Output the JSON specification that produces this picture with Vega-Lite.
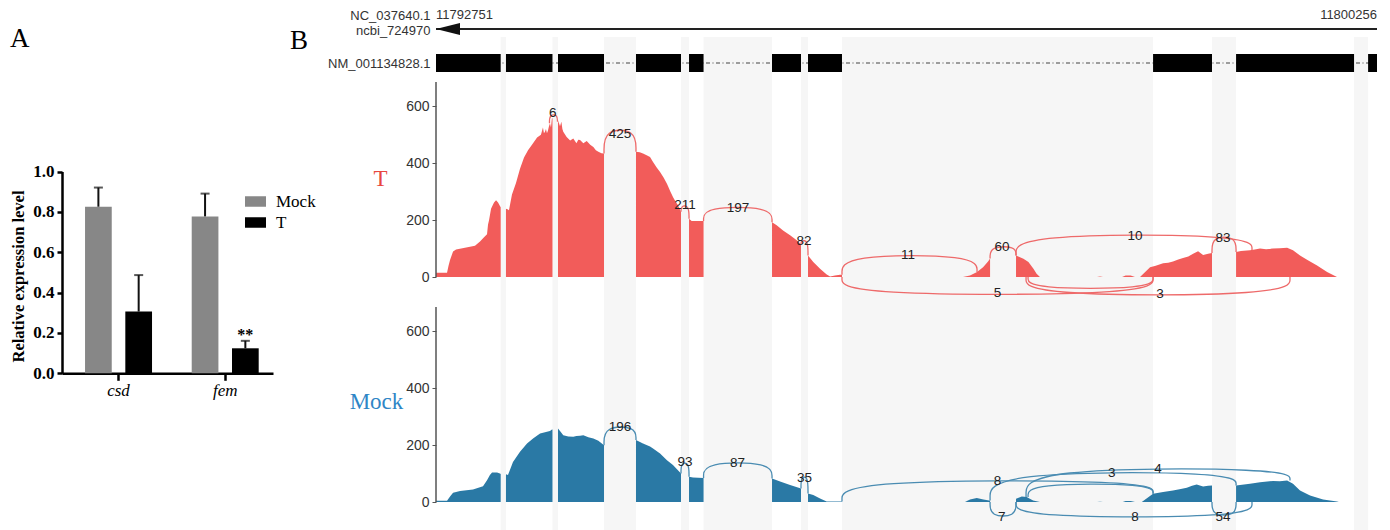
{
"$schema":"https://vega.github.io/schema/vega-lite/v6.json",
"background":"white",
"padding":{"left":10,"top":0,"right":0,"bottom":0},
"config":{"view":{"stroke":null},"font":"Liberation Sans"},
"datasets":{
"expr":[
{"gene":"csd","group":"Mock","mean":0.826,"upper":0.921,"sig":""},
{"gene":"csd","group":"T","mean":0.306,"upper":0.487,"sig":""},
{"gene":"fem","group":"Mock","mean":0.778,"upper":0.891,"sig":""},
{"gene":"fem","group":"T","mean":0.124,"upper":0.161,"sig":"**"}
],
"gene":[{"start":0,"end":7505,"startLabel":"11792751","endLabel":"11800256"}],
"exons":[{"start":0,"end":516},{"start":558,"end":929},{"start":973,"end":1340},{"start":1595,"end":1954},{"start":2018,"end":2134},{"start":2680,"end":2911},{"start":2967,"end":3238},{"start":5719,"end":6189},{"start":6381,"end":7322},{"start":7434,"end":7505}],
"introns":[{"start":516,"end":558},{"start":929,"end":973},{"start":1340,"end":1595},{"start":1954,"end":2018},{"start":2134,"end":2680},{"start":2911,"end":2967},{"start":3238,"end":5719},{"start":6189,"end":6381},{"start":7322,"end":7434}],
"covT":[
{"seg":1,"pos":0,"cov":15},{"seg":1,"pos":88,"cov":15},{"seg":1,"pos":100,"cov":40},{"seg":1,"pos":112,"cov":60},{"seg":1,"pos":136,"cov":90},{"seg":1,"pos":160,"cov":97},{"seg":1,"pos":231,"cov":103},{"seg":1,"pos":311,"cov":110},{"seg":1,"pos":351,"cov":125},{"seg":1,"pos":383,"cov":140},{"seg":1,"pos":407,"cov":150},{"seg":1,"pos":415,"cov":185},{"seg":1,"pos":423,"cov":200},{"seg":1,"pos":439,"cov":240},{"seg":1,"pos":455,"cov":255},{"seg":1,"pos":463,"cov":262},{"seg":1,"pos":479,"cov":270},{"seg":1,"pos":495,"cov":262},{"seg":1,"pos":510,"cov":250},{"seg":1,"pos":516,"cov":245},
{"seg":2,"pos":558,"cov":240},{"seg":2,"pos":570,"cov":238},{"seg":2,"pos":582,"cov":235},{"seg":2,"pos":606,"cov":290},{"seg":2,"pos":638,"cov":330},{"seg":2,"pos":670,"cov":380},{"seg":2,"pos":702,"cov":420},{"seg":2,"pos":734,"cov":445},{"seg":2,"pos":774,"cov":470},{"seg":2,"pos":806,"cov":490},{"seg":2,"pos":837,"cov":500},{"seg":2,"pos":853,"cov":525},{"seg":2,"pos":861,"cov":505},{"seg":2,"pos":869,"cov":510},{"seg":2,"pos":877,"cov":520},{"seg":2,"pos":885,"cov":505},{"seg":2,"pos":893,"cov":515},{"seg":2,"pos":901,"cov":530},{"seg":2,"pos":909,"cov":540},{"seg":2,"pos":917,"cov":525},{"seg":2,"pos":925,"cov":560},{"seg":2,"pos":929,"cov":555},
{"seg":3,"pos":973,"cov":549},{"seg":3,"pos":981,"cov":540},{"seg":3,"pos":989,"cov":530},{"seg":3,"pos":1000,"cov":545},{"seg":3,"pos":1008,"cov":520},{"seg":3,"pos":1015,"cov":510},{"seg":3,"pos":1042,"cov":492},{"seg":3,"pos":1070,"cov":480},{"seg":3,"pos":1095,"cov":487},{"seg":3,"pos":1120,"cov":470},{"seg":3,"pos":1135,"cov":482},{"seg":3,"pos":1149,"cov":481},{"seg":3,"pos":1175,"cov":470},{"seg":3,"pos":1202,"cov":478},{"seg":3,"pos":1230,"cov":465},{"seg":3,"pos":1255,"cov":457},{"seg":3,"pos":1275,"cov":445},{"seg":3,"pos":1295,"cov":440},{"seg":3,"pos":1320,"cov":435},{"seg":3,"pos":1340,"cov":434},
{"seg":4,"pos":1595,"cov":440},{"seg":4,"pos":1625,"cov":438},{"seg":4,"pos":1651,"cov":434},{"seg":4,"pos":1680,"cov":428},{"seg":4,"pos":1707,"cov":422},{"seg":4,"pos":1731,"cov":404},{"seg":4,"pos":1760,"cov":385},{"seg":4,"pos":1787,"cov":369},{"seg":4,"pos":1815,"cov":350},{"seg":4,"pos":1842,"cov":328},{"seg":4,"pos":1870,"cov":300},{"seg":4,"pos":1890,"cov":281},{"seg":4,"pos":1910,"cov":265},{"seg":4,"pos":1930,"cov":252},{"seg":4,"pos":1954,"cov":229},
{"seg":5,"pos":2018,"cov":205},{"seg":5,"pos":2039,"cov":197},{"seg":5,"pos":2080,"cov":197},{"seg":5,"pos":2134,"cov":197},
{"seg":6,"pos":2680,"cov":193},{"seg":6,"pos":2717,"cov":182},{"seg":6,"pos":2768,"cov":164},{"seg":6,"pos":2824,"cov":147},{"seg":6,"pos":2877,"cov":129},{"seg":6,"pos":2911,"cov":115},
{"seg":7,"pos":2967,"cov":76},{"seg":7,"pos":3009,"cov":53},{"seg":7,"pos":3063,"cov":29},{"seg":7,"pos":3116,"cov":9},{"seg":7,"pos":3143,"cov":2},{"seg":7,"pos":3182,"cov":6},{"seg":7,"pos":3222,"cov":8},{"seg":7,"pos":3238,"cov":8},
{"seg":8,"pos":4203,"cov":0},{"seg":8,"pos":4259,"cov":6},{"seg":8,"pos":4315,"cov":18},{"seg":8,"pos":4363,"cov":35},{"seg":8,"pos":4403,"cov":55},{"seg":8,"pos":4419,"cov":65},
{"seg":9,"pos":4626,"cov":76},{"seg":9,"pos":4685,"cov":64},{"seg":9,"pos":4725,"cov":53},{"seg":9,"pos":4765,"cov":29},{"seg":9,"pos":4790,"cov":12},{"seg":9,"pos":4817,"cov":0},
{"seg":10,"pos":5272,"cov":0},{"seg":10,"pos":5296,"cov":2},{"seg":10,"pos":5320,"cov":0},
{"seg":11,"pos":5472,"cov":0},{"seg":11,"pos":5500,"cov":6},{"seg":11,"pos":5540,"cov":6},{"seg":11,"pos":5575,"cov":0},
{"seg":12,"pos":5615,"cov":0},{"seg":12,"pos":5695,"cov":35},{"seg":12,"pos":5740,"cov":40},{"seg":12,"pos":5799,"cov":49},{"seg":12,"pos":5840,"cov":50},{"seg":12,"pos":5878,"cov":55},{"seg":12,"pos":5920,"cov":62},{"seg":12,"pos":5958,"cov":67},{"seg":12,"pos":6000,"cov":72},{"seg":12,"pos":6038,"cov":82},{"seg":12,"pos":6078,"cov":91},{"seg":12,"pos":6118,"cov":78},{"seg":12,"pos":6158,"cov":82},{"seg":12,"pos":6189,"cov":85},
{"seg":13,"pos":6381,"cov":88},{"seg":13,"pos":6420,"cov":92},{"seg":13,"pos":6492,"cov":94},{"seg":13,"pos":6530,"cov":97},{"seg":13,"pos":6572,"cov":100},{"seg":13,"pos":6620,"cov":98},{"seg":13,"pos":6675,"cov":100},{"seg":13,"pos":6730,"cov":101},{"seg":13,"pos":6788,"cov":103},{"seg":13,"pos":6835,"cov":94},{"seg":13,"pos":6891,"cov":76},{"seg":13,"pos":6947,"cov":61},{"seg":13,"pos":7027,"cov":41},{"seg":13,"pos":7107,"cov":18},{"seg":13,"pos":7186,"cov":0}
],
"covMock":[
{"seg":1,"pos":0,"cov":5},{"seg":1,"pos":88,"cov":5},{"seg":1,"pos":112,"cov":20},{"seg":1,"pos":136,"cov":33},{"seg":1,"pos":192,"cov":39},{"seg":1,"pos":295,"cov":44},{"seg":1,"pos":375,"cov":56},{"seg":1,"pos":407,"cov":77},{"seg":1,"pos":430,"cov":95},{"seg":1,"pos":447,"cov":104},{"seg":1,"pos":487,"cov":104},{"seg":1,"pos":510,"cov":100},{"seg":1,"pos":516,"cov":99},
{"seg":2,"pos":558,"cov":98},{"seg":2,"pos":574,"cov":95},{"seg":2,"pos":614,"cov":141},{"seg":2,"pos":670,"cov":177},{"seg":2,"pos":726,"cov":206},{"seg":2,"pos":774,"cov":223},{"seg":2,"pos":830,"cov":241},{"seg":2,"pos":885,"cov":247},{"seg":2,"pos":909,"cov":250},{"seg":2,"pos":925,"cov":255},{"seg":2,"pos":929,"cov":255},
{"seg":3,"pos":973,"cov":258},{"seg":3,"pos":989,"cov":250},{"seg":3,"pos":1015,"cov":235},{"seg":3,"pos":1055,"cov":230},{"seg":3,"pos":1095,"cov":229},{"seg":3,"pos":1120,"cov":232},{"seg":3,"pos":1149,"cov":233},{"seg":3,"pos":1175,"cov":235},{"seg":3,"pos":1215,"cov":228},{"seg":3,"pos":1255,"cov":223},{"seg":3,"pos":1295,"cov":215},{"seg":3,"pos":1340,"cov":200},
{"seg":4,"pos":1595,"cov":218},{"seg":4,"pos":1651,"cov":206},{"seg":4,"pos":1707,"cov":195},{"seg":4,"pos":1731,"cov":188},{"seg":4,"pos":1787,"cov":171},{"seg":4,"pos":1842,"cov":147},{"seg":4,"pos":1890,"cov":130},{"seg":4,"pos":1954,"cov":100},
{"seg":5,"pos":2018,"cov":89},{"seg":5,"pos":2050,"cov":86},{"seg":5,"pos":2134,"cov":85},
{"seg":6,"pos":2680,"cov":83},{"seg":6,"pos":2750,"cov":71},{"seg":6,"pos":2824,"cov":60},{"seg":6,"pos":2911,"cov":48},
{"seg":7,"pos":2967,"cov":30},{"seg":7,"pos":3009,"cov":25},{"seg":7,"pos":3063,"cov":13},{"seg":7,"pos":3116,"cov":2},{"seg":7,"pos":3238,"cov":2},
{"seg":8,"pos":4219,"cov":0},{"seg":8,"pos":4259,"cov":9},{"seg":8,"pos":4313,"cov":14},{"seg":8,"pos":4366,"cov":9},{"seg":8,"pos":4411,"cov":6},{"seg":8,"pos":4419,"cov":6},
{"seg":9,"pos":4626,"cov":12},{"seg":9,"pos":4672,"cov":20},{"seg":9,"pos":4711,"cov":18},{"seg":9,"pos":4762,"cov":6},{"seg":9,"pos":4817,"cov":0},
{"seg":10,"pos":5272,"cov":0},{"seg":10,"pos":5296,"cov":1.5},{"seg":10,"pos":5320,"cov":0},
{"seg":11,"pos":5477,"cov":0},{"seg":11,"pos":5500,"cov":4},{"seg":11,"pos":5540,"cov":4},{"seg":11,"pos":5575,"cov":0},
{"seg":12,"pos":5629,"cov":0},{"seg":12,"pos":5719,"cov":29},{"seg":12,"pos":5799,"cov":35},{"seg":12,"pos":5878,"cov":41},{"seg":12,"pos":5930,"cov":45},{"seg":12,"pos":5988,"cov":50},{"seg":12,"pos":6030,"cov":57},{"seg":12,"pos":6067,"cov":62},{"seg":12,"pos":6118,"cov":55},{"seg":12,"pos":6158,"cov":57},{"seg":12,"pos":6189,"cov":58},
{"seg":13,"pos":6381,"cov":58},{"seg":13,"pos":6492,"cov":64},{"seg":13,"pos":6572,"cov":70},{"seg":13,"pos":6676,"cov":74},{"seg":13,"pos":6730,"cov":73},{"seg":13,"pos":6788,"cov":76},{"seg":13,"pos":6835,"cov":64},{"seg":13,"pos":6891,"cov":41},{"seg":13,"pos":6971,"cov":23},{"seg":13,"pos":7075,"cov":9},{"seg":13,"pos":7186,"cov":2},{"seg":13,"pos":7200,"cov":0}
],
"arcsT":[
{"arc":"6","k":0,"pos":905,"cov":540},{"arc":"6","k":1,"pos":905,"cov":571},{"arc":"6","k":2,"pos":969,"cov":571},{"arc":"6","k":3,"pos":969,"cov":545},
{"arc":"425","k":0,"pos":1340,"cov":434},{"arc":"425","k":1,"pos":1340,"cov":519},{"arc":"425","k":2,"pos":1595,"cov":519},{"arc":"425","k":3,"pos":1595,"cov":440},
{"arc":"211","k":0,"pos":1954,"cov":229},{"arc":"211","k":1,"pos":1954,"cov":251},{"arc":"211","k":2,"pos":2018,"cov":251},{"arc":"211","k":3,"pos":2018,"cov":205},
{"arc":"197","k":0,"pos":2134,"cov":197},{"arc":"197","k":1,"pos":2134,"cov":247},{"arc":"197","k":2,"pos":2680,"cov":247},{"arc":"197","k":3,"pos":2680,"cov":193},
{"arc":"82","k":0,"pos":2911,"cov":115},{"arc":"82","k":1,"pos":2911,"cov":129},{"arc":"82","k":2,"pos":2967,"cov":129},{"arc":"82","k":3,"pos":2967,"cov":76},
{"arc":"11","k":0,"pos":3238,"cov":8},{"arc":"11","k":1,"pos":3238,"cov":78},{"arc":"11","k":2,"pos":4315,"cov":78},{"arc":"11","k":3,"pos":4315,"cov":18},
{"arc":"60","k":0,"pos":4419,"cov":65},{"arc":"60","k":1,"pos":4419,"cov":108},{"arc":"60","k":2,"pos":4626,"cov":108},{"arc":"60","k":3,"pos":4626,"cov":76},
{"arc":"10","k":0,"pos":4626,"cov":76},{"arc":"10","k":1,"pos":4626,"cov":150},{"arc":"10","k":2,"pos":6508,"cov":150},{"arc":"10","k":3,"pos":6508,"cov":94},
{"arc":"83","k":0,"pos":6189,"cov":85},{"arc":"83","k":1,"pos":6189,"cov":143},{"arc":"83","k":2,"pos":6381,"cov":143},{"arc":"83","k":3,"pos":6381,"cov":88},
{"arc":"5","k":0,"pos":3238,"cov":0},{"arc":"5","k":1,"pos":3238,"cov":-63},{"arc":"5","k":2,"pos":5719,"cov":-63},{"arc":"5","k":3,"pos":5719,"cov":0},
{"arc":"3","k":0,"pos":4706,"cov":0},{"arc":"3","k":1,"pos":4706,"cov":-65},{"arc":"3","k":2,"pos":6811,"cov":-65},{"arc":"3","k":3,"pos":6811,"cov":0},
{"arc":"x","k":0,"pos":4722,"cov":0},{"arc":"x","k":1,"pos":4722,"cov":-41},{"arc":"x","k":2,"pos":5719,"cov":-41},{"arc":"x","k":3,"pos":5719,"cov":0}
],
"arcsMock":[
{"arc":"196","k":0,"pos":1340,"cov":200},{"arc":"196","k":1,"pos":1340,"cov":266},{"arc":"196","k":2,"pos":1595,"cov":266},{"arc":"196","k":3,"pos":1595,"cov":218},
{"arc":"93","k":0,"pos":1954,"cov":100},{"arc":"93","k":1,"pos":1954,"cov":139},{"arc":"93","k":2,"pos":2018,"cov":139},{"arc":"93","k":3,"pos":2018,"cov":89},
{"arc":"87","k":0,"pos":2134,"cov":85},{"arc":"87","k":1,"pos":2134,"cov":140},{"arc":"87","k":2,"pos":2680,"cov":140},{"arc":"87","k":3,"pos":2680,"cov":83},
{"arc":"35","k":0,"pos":2911,"cov":48},{"arc":"35","k":1,"pos":2911,"cov":90},{"arc":"35","k":2,"pos":2967,"cov":90},{"arc":"35","k":3,"pos":2967,"cov":30},
{"arc":"8u","k":0,"pos":3238,"cov":2},{"arc":"8u","k":1,"pos":3238,"cov":77},{"arc":"8u","k":2,"pos":5719,"cov":77},{"arc":"8u","k":3,"pos":5719,"cov":29},
{"arc":"x","k":0,"pos":4722,"cov":18},{"arc":"x","k":1,"pos":4722,"cov":65},{"arc":"x","k":2,"pos":5719,"cov":65},{"arc":"x","k":3,"pos":5719,"cov":29},
{"arc":"3","k":0,"pos":4419,"cov":6},{"arc":"3","k":1,"pos":4419,"cov":106},{"arc":"3","k":2,"pos":6381,"cov":106},{"arc":"3","k":3,"pos":6381,"cov":58},
{"arc":"4","k":0,"pos":4706,"cov":18},{"arc":"4","k":1,"pos":4706,"cov":119},{"arc":"4","k":2,"pos":6811,"cov":119},{"arc":"4","k":3,"pos":6811,"cov":76},
{"arc":"7","k":0,"pos":4419,"cov":0},{"arc":"7","k":1,"pos":4419,"cov":-51},{"arc":"7","k":2,"pos":4626,"cov":-51},{"arc":"7","k":3,"pos":4626,"cov":0},
{"arc":"8d","k":0,"pos":4626,"cov":0},{"arc":"8d","k":1,"pos":4626,"cov":-54},{"arc":"8d","k":2,"pos":6508,"cov":-54},{"arc":"8d","k":3,"pos":6508,"cov":0},
{"arc":"54","k":0,"pos":6189,"cov":0},{"arc":"54","k":1,"pos":6189,"cov":-48},{"arc":"54","k":2,"pos":6381,"cov":-48},{"arc":"54","k":3,"pos":6381,"cov":0}
],
"labelsT":[
{"label":"6","pos":931,"cov":577},{"label":"425","pos":1467,"cov":503},{"label":"211","pos":1986,"cov":253},{"label":"197","pos":2409,"cov":243},{"label":"82","pos":2935,"cov":128},{"label":"11","pos":3765,"cov":76},{"label":"60","pos":4514,"cov":105},{"label":"10","pos":5575,"cov":146},{"label":"83","pos":6277,"cov":138},{"label":"5","pos":4478,"cov":-57},{"label":"3","pos":5775,"cov":-58}
],
"labelsMock":[
{"label":"196","pos":1467,"cov":264},{"label":"93","pos":1986,"cov":141},{"label":"87","pos":2405,"cov":137},{"label":"35","pos":2939,"cov":84},{"label":"8","pos":4478,"cov":74},{"label":"3","pos":5389,"cov":102},{"label":"4","pos":5759,"cov":116},{"label":"7","pos":4512,"cov":-53},{"label":"8","pos":5575,"cov":-53},{"label":"54","pos":6277,"cov":-54}
]
},
"resolve":{"scale":{"x":"independent","y":"independent","color":"independent"}},
"bounds":"flush",
"spacing":163,
"hconcat":[
{
"width":211,"height":530,
"title":{"text":"A","anchor":"start","frame":"group","orient":"top","offset":0,"dx":-52,"dy":74,"baseline":"alphabetic","font":"Liberation Serif","fontSize":27,"fontWeight":"normal","color":"black"},
"data":{"name":"expr"},
"encoding":{
"x":{"field":"gene","type":"nominal","sort":["csd","fem"],"scale":{"paddingInner":0.372,"paddingOuter":0.175,"align":0.617},"axis":{"title":null,"orient":"bottom","offset":-156.7,"labelAngle":0,"labelFont":"Liberation Serif","labelFontSize":17,"labelFontStyle":"italic","labelColor":"black","labelPadding":2,"domainColor":"black","domainWidth":2.5,"tickColor":"black","tickWidth":2.5,"tickSize":7}},
"xOffset":{"field":"group","type":"nominal","sort":["Mock","T"],"scale":{"paddingInner":0.337,"paddingOuter":0}}
},
"layer":[
{"mark":{"type":"bar"},"encoding":{
"y":{"field":"mean","type":"quantitative","scale":{"domain":[-0.777,1.851],"nice":false,"zero":false},"axis":{"values":[0,0.2,0.4,0.6,0.8,1.0],"format":".1f","grid":false,"title":"Relative expression level","titleFont":"Liberation Serif","titleFontSize":16.5,"titleFontWeight":"bold","titleColor":"black","titleY":276,"titlePadding":6,"labelFont":"Liberation Serif","labelFontSize":17,"labelFontWeight":"bold","labelColor":"black","labelPadding":3,"domainColor":"black","domainWidth":2.5,"domainDash":[0,156.7,201.7,1000],"tickColor":"black","tickWidth":2.5,"tickSize":5}},
"y2":{"datum":0},
"color":{"field":"group","type":"nominal","scale":{"domain":["Mock","T"],"range":["#878787","#000000"]},"legend":{"title":null,"orient":"none","legendX":183,"legendY":191,"direction":"vertical","symbolType":"M-1,-0.5H1V0.5H-1Z","symbolSize":441,"symbolStrokeWidth":0,"labelFont":"Liberation Serif","labelFontSize":17,"labelColor":"black","labelOffset":10,"rowPadding":2}}
}},
{"mark":{"type":"rule","color":"#111111","strokeWidth":2},"encoding":{"y":{"field":"mean","type":"quantitative"},"y2":{"field":"upper"}}},
{"mark":{"type":"tick","color":"#111111","thickness":2,"size":9},"encoding":{"y":{"field":"upper","type":"quantitative"}}},
{"mark":{"type":"text","font":"Liberation Serif","fontSize":16,"fontWeight":"bold","baseline":"alphabetic","dy":-1,"color":"black"},"encoding":{"y":{"field":"upper","type":"quantitative"},"text":{"field":"sig","type":"nominal"}}}
]
},
{
"bounds":"flush",
"spacing":0,
"resolve":{"scale":{"x":"independent","y":"independent"}},
"vconcat":[
{
"width":941,"height":82,
"title":{"text":"B","anchor":"start","frame":"group","orient":"top","offset":0,"dx":-146,"dy":76,"baseline":"alphabetic","font":"Liberation Serif","fontSize":27,"fontWeight":"normal","color":"black"},
"layer":[
{"data":{"name":"introns"},"mark":{"type":"rect","color":"#f6f6f6"},"encoding":{
"x":{"field":"start","type":"quantitative","scale":{"domain":[0,7505],"nice":false,"zero":false},"axis":null},
"x2":{"field":"end"},
"y":{"datum":37,"type":"quantitative","scale":{"domain":[0,82],"reverse":true,"nice":false,"zero":false},"axis":{"values":[15,30,63],"labelExpr":"datum.value == 15 ? 'NC_037640.1' : datum.value == 30 ? 'ncbi_724970' : 'NM_001134828.1'","title":null,"domain":false,"ticks":false,"grid":false,"labelPadding":6,"labelFont":"Liberation Sans","labelFontSize":13,"labelColor":"#333333"}},
"y2":{"datum":82}}},
{"data":{"name":"gene"},"mark":{"type":"rule","color":"#222222","strokeWidth":2},"encoding":{"x":{"field":"start","type":"quantitative","axis":null},"x2":{"field":"end"},"y":{"datum":29,"type":"quantitative"}}},
{"data":{"name":"gene"},"mark":{"type":"point","shape":"M0,0L2,-0.5L2,0.5Z","size":576,"filled":true,"opacity":1,"color":"#111111","strokeWidth":0},"encoding":{"x":{"field":"start","type":"quantitative","axis":null},"y":{"datum":29,"type":"quantitative"}}},
{"data":{"name":"gene"},"mark":{"type":"rule","color":"#444444","strokeWidth":1,"strokeDash":[4,2.5,1,2.5]},"encoding":{"x":{"field":"start","type":"quantitative","axis":null},"x2":{"field":"end"},"y":{"datum":63,"type":"quantitative"}}},
{"data":{"name":"exons"},"mark":{"type":"rect","color":"#000000"},"encoding":{"x":{"field":"start","type":"quantitative","axis":null},"x2":{"field":"end"},"y":{"datum":54,"type":"quantitative"},"y2":{"datum":72}}},
{"data":{"name":"gene"},"mark":{"type":"text","align":"left","baseline":"middle","fontSize":13,"font":"Liberation Sans","color":"#333333"},"encoding":{"x":{"field":"start","type":"quantitative","axis":null},"y":{"datum":15,"type":"quantitative"},"text":{"field":"startLabel","type":"nominal"}}},
{"data":{"name":"gene"},"mark":{"type":"text","align":"right","baseline":"middle","fontSize":13,"font":"Liberation Sans","color":"#333333"},"encoding":{"x":{"field":"end","type":"quantitative","axis":null},"y":{"datum":15,"type":"quantitative"},"text":{"field":"endLabel","type":"nominal"}}}
]
},
{
"width":941,"height":225,
"layer":[
{"data":{"name":"introns"},"mark":{"type":"rect","color":"#f6f6f6"},"encoding":{"x":{"field":"start","type":"quantitative","scale":{"domain":[0,7505],"nice":false,"zero":false},"axis":null},"x2":{"field":"end"}}},
{"data":{"name":"covT"},"mark":{"type":"area","color":"#f25c5a","opacity":1},"encoding":{
"x":{"field":"pos","type":"quantitative","axis":null},
"y":{"field":"cov","type":"quantitative","stack":null,"scale":{"domain":[-105,685],"nice":false,"zero":false},"axis":{"values":[0,100,200,300,400,500,600],"domain":false,"grid":false,"tickSize":4,"tickColor":"#555555","tickWidth":1,"labelFont":"Liberation Sans","labelFontSize":14,"labelColor":"#333333","labelPadding":3,"title":"T","titleAngle":0,"titleFont":"Liberation Serif","titleFontSize":23,"titleFontWeight":"normal","titleColor":"#e8473f","titleX":-56,"titleY":96,"titleAlign":"center","titleBaseline":"middle"}},
"detail":{"field":"seg","type":"nominal"}}},
{"data":{"name":"arcsT"},"mark":{"type":"line","interpolate":"basis","color":"#ee6a6a","strokeWidth":1.3},"encoding":{"x":{"field":"pos","type":"quantitative","axis":null},"y":{"field":"cov","type":"quantitative"},"detail":{"field":"arc","type":"nominal"},"order":{"field":"k","type":"quantitative"}}},
{"data":{"name":"labelsT"},"mark":{"type":"text","font":"Liberation Sans","fontSize":13.5,"color":"#222222","baseline":"middle"},"encoding":{"x":{"field":"pos","type":"quantitative","axis":null},"y":{"field":"cov","type":"quantitative"},"text":{"field":"label","type":"nominal"}}},
{"data":{"values":[{}]},"mark":{"type":"rule","color":"#555555","strokeWidth":1.5},"encoding":{"x":{"datum":0,"type":"quantitative"},"y":{"datum":0,"type":"quantitative"},"y2":{"datum":685}}}
]
},
{
"width":941,"height":223,
"layer":[
{"data":{"name":"introns"},"mark":{"type":"rect","color":"#f6f6f6"},"encoding":{"x":{"field":"start","type":"quantitative","scale":{"domain":[0,7505],"nice":false,"zero":false},"axis":null},"x2":{"field":"end"}}},
{"data":{"name":"covMock"},"mark":{"type":"area","color":"#2a79a5","opacity":1},"encoding":{
"x":{"field":"pos","type":"quantitative","axis":null},
"y":{"field":"cov","type":"quantitative","stack":null,"scale":{"domain":[-98,685],"nice":false,"zero":false},"axis":{"values":[0,100,200,300,400,500,600],"domain":false,"grid":false,"tickSize":4,"tickColor":"#555555","tickWidth":1,"labelFont":"Liberation Sans","labelFontSize":14,"labelColor":"#333333","labelPadding":3,"title":"Mock","titleAngle":0,"titleFont":"Liberation Serif","titleFontSize":23,"titleFontWeight":"normal","titleColor":"#2f86c6","titleX":-60,"titleY":94,"titleAlign":"center","titleBaseline":"middle"}},
"detail":{"field":"seg","type":"nominal"}}},
{"data":{"name":"arcsMock"},"mark":{"type":"line","interpolate":"basis","color":"#4a8cb2","strokeWidth":1.3},"encoding":{"x":{"field":"pos","type":"quantitative","axis":null},"y":{"field":"cov","type":"quantitative"},"detail":{"field":"arc","type":"nominal"},"order":{"field":"k","type":"quantitative"}}},
{"data":{"name":"labelsMock"},"mark":{"type":"text","font":"Liberation Sans","fontSize":13.5,"color":"#222222","baseline":"middle"},"encoding":{"x":{"field":"pos","type":"quantitative","axis":null},"y":{"field":"cov","type":"quantitative"},"text":{"field":"label","type":"nominal"}}},
{"data":{"values":[{}]},"mark":{"type":"rule","color":"#555555","strokeWidth":1.5},"encoding":{"x":{"datum":0,"type":"quantitative"},"y":{"datum":0,"type":"quantitative"},"y2":{"datum":685}}}
]
}
]
}
]
}
